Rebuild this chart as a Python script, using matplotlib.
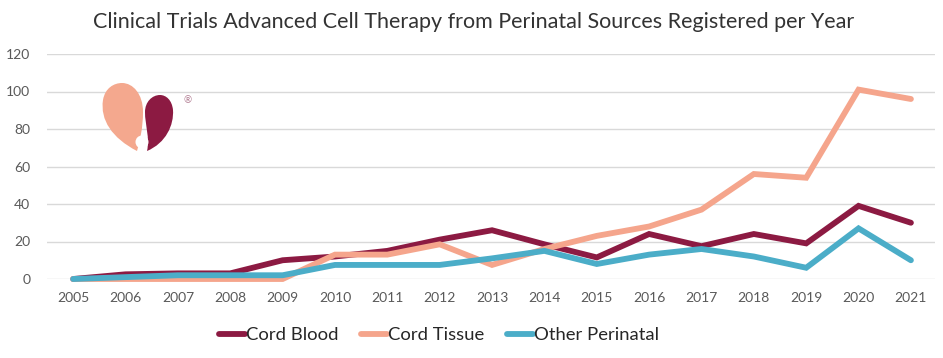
import matplotlib
matplotlib.use("Agg")
import matplotlib.pyplot as plt
from matplotlib.path import Path
from matplotlib.patches import PathPatch, Circle

years = [2005, 2006, 2007, 2008, 2009, 2010, 2011, 2012, 2013, 2014, 2015, 2016, 2017, 2018, 2019, 2020, 2021]
cord_blood = [0, 2.5, 3, 3, 10, 12, 15, 21, 26, 18.5, 11.5, 24, 17.5, 24, 19, 39, 30]
cord_tissue = [0, 0, 0, 0, 0, 13, 13, 18.5, 7.5, 16, 23, 28, 37, 56, 54, 101, 96]
other_perinatal = [0, 1, 2, 2, 2, 7.5, 7.5, 7.5, 11, 15, 8, 13, 16, 12, 6, 27, 10]
series_names = ["Cord Blood", "Cord Tissue", "Other Perinatal"]
colors = ["#8C1A42", "#F5A58C", "#4BADC8"]
title = "Clinical Trials Advanced Cell Therapy from Perinatal Sources Registered per Year"

plt.rcParams['font.family'] = ['Lato', 'DejaVu Sans']

W, H = 943, 358
fig = plt.figure(figsize=(W / 100, H / 100), dpi=100)
left, right, top, bottom = 47, 935, 54, 279
ax = fig.add_axes([left / W, 1 - bottom / H, (right - left) / W, (bottom - top) / H])

for vals, name, c in zip([cord_blood, cord_tissue, other_perinatal], series_names, colors):
    ax.plot(years, vals, color=c, lw=4.2, label=name, solid_capstyle='round',
            solid_joinstyle='miter', clip_on=False, zorder=3)

ax.set_xlim(2004.5, 2021.46)
ax.set_ylim(0, 120)
ax.set_yticks(range(0, 121, 20))
ax.set_xticks(years)
ax.set_xticklabels([str(y) for y in years])
ax.grid(axis='y', color='#D9D9D9', lw=1)
ax.set_axisbelow(True)
for s in ax.spines.values():
    s.set_visible(False)
ax.tick_params(axis='both', length=0, labelsize=10, labelcolor='#595959')
ax.tick_params(axis='y', pad=12)
ax.tick_params(axis='x', pad=9)

fig.text(474 / W, 1 - 22 / H, title, ha='center', va='center', fontsize=15.5, color='#333333')

leg = fig.legend(loc='center', bbox_to_anchor=(439 / W, 1 - 335 / H), ncol=3, frameon=False,
                 fontsize=13.3, handlelength=1.4, handletextpad=0.05, columnspacing=1.25)
for t in leg.get_texts():
    t.set_color('#262626')

# logo
lax = fig.add_axes([0, 0, 1, 1])
lax.set_xlim(0, W)
lax.set_ylim(H, 0)
lax.axis('off')
peach = Path([(137, 151), (112, 138), (100, 120), (103, 100),
              (105, 88), (114, 83), (122, 83),
              (133, 83), (143, 94), (143, 112),
              (143, 128), (140, 140), (137, 151), (137, 151)],
             [Path.MOVETO, Path.CURVE4, Path.CURVE4, Path.CURVE4,
              Path.CURVE4, Path.CURVE4, Path.CURVE4,
              Path.CURVE4, Path.CURVE4, Path.CURVE4,
              Path.CURVE4, Path.CURVE4, Path.CURVE4, Path.CLOSEPOLY])
lax.add_patch(PathPatch(peach, facecolor='#F4A88E', edgecolor='none'))
crim = Path([(147, 151), (166, 143), (174, 125), (173, 110),
             (172, 100), (166, 95), (160, 95),
             (152, 95), (145, 102), (145, 112),
             (145, 125), (150, 138), (147, 151), (147, 151)],
            [Path.MOVETO, Path.CURVE4, Path.CURVE4, Path.CURVE4,
             Path.CURVE4, Path.CURVE4, Path.CURVE4,
             Path.CURVE4, Path.CURVE4, Path.CURVE4,
             Path.CURVE4, Path.CURVE4, Path.CURVE4, Path.CLOSEPOLY])
lax.add_patch(PathPatch(crim, facecolor='#8C1A42', edgecolor='none'))
lax.add_patch(Circle((142, 142), 6.5, facecolor='white', edgecolor='none'))
lax.text(188, 101, "®", fontsize=7, color='#B07A90', ha='center', va='center')

fig.savefig("out.png", dpi=100)
